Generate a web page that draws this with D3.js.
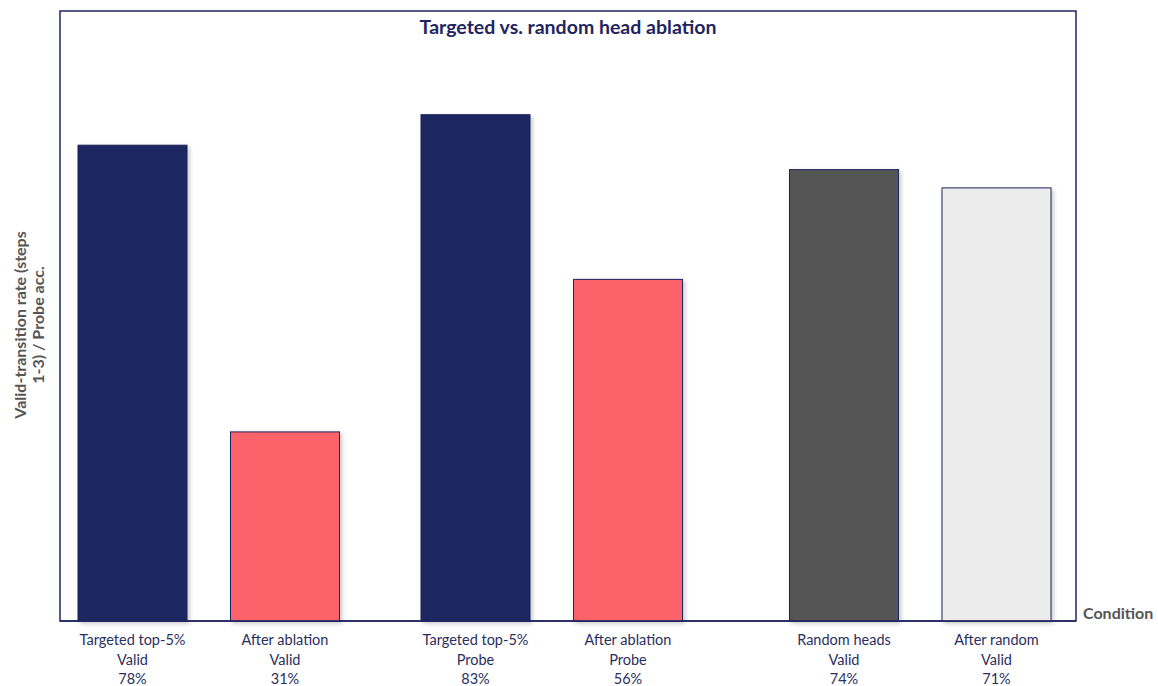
<!DOCTYPE html>
<html>
<head>
<meta charset="utf-8">
<script src="https://cdn.jsdelivr.net/npm/d3@7"></script>
<style>
  html, body { margin: 0; padding: 0; background: #fff; }
  svg { display: block; font-family: Lato, "Open Sans", "Liberation Sans", sans-serif; }
</style>
</head>
<body>
<svg id="chart" width="1158" height="686"></svg>
<script>
// Conditions, grouped in pairs (before / after)
const conditions = [
  "Targeted top-5%|Valid", "After ablation|Valid",
  "Targeted top-5%|Probe", "After ablation|Probe",
  "Random heads|Valid", "After random|Valid"
];
const conditionGroup = [0, 0, 1, 1, 2, 2];
const values = [0.78, 0.31, 0.83, 0.56, 0.74, 0.71];
const barColors = ["#1f2560", "#fb626b", "#1f2560", "#fb626b", "#555555", "#ececec"];

const title = "Targeted vs. random head ablation";
const yTitleLines = ["Valid-transition rate (steps", "1-3)  /  Probe acc."];
const xTitle = "Condition";

const svg = d3.select("#chart");
const frame = { left: 60, top: 11, right: 1076, bottom: 621 };
const navy = "#1f2560";

// layout: bar pitch and extra spacing inserted before each group
const barStep = 152.5;
const barWidth = 109;
const groupExtra = [0, 38, 101.5];

const defs = svg.append("defs");
const f = defs.append("filter").attr("id", "shadow")
  .attr("x", "-10%").attr("y", "-10%").attr("width", "130%").attr("height", "130%");
f.append("feDropShadow").attr("dx", 2).attr("dy", 2).attr("stdDeviation", 2)
  .attr("flood-color", "#000").attr("flood-opacity", 0.22);

const y = d3.scaleLinear().domain([0, 1]).range([frame.bottom, frame.top]);
const xi = d3.scaleLinear().domain([0, 1]).range([132.5, 132.5 + barStep]);

const bars = conditions.map((c, i) => ({
  label: c.split("|"),
  value: values[i],
  color: barColors[i],
  cx: xi(i) + groupExtra[conditionGroup[i]]
}));

// plot frame
svg.append("rect")
  .attr("x", frame.left).attr("y", frame.top)
  .attr("width", frame.right - frame.left).attr("height", frame.bottom - frame.top)
  .attr("fill", "#fff").attr("stroke", navy).attr("stroke-width", 1.5);

svg.append("g").selectAll("rect").data(bars).join("rect")
  .attr("x", d => d.cx - barWidth / 2)
  .attr("y", d => y(d.value))
  .attr("width", barWidth)
  .attr("height", d => y(0) - y(d.value))
  .attr("fill", d => d.color)
  .attr("stroke", navy).attr("stroke-width", 1)
  .attr("filter", "url(#shadow)");

// frame bottom drawn over bar bases
svg.append("line")
  .attr("x1", frame.left).attr("x2", frame.right)
  .attr("y1", frame.bottom).attr("y2", frame.bottom)
  .attr("stroke", navy).attr("stroke-width", 1.5);

// category labels with values
const lab = svg.append("g").selectAll("text").data(bars).join("text")
  .attr("text-anchor", "middle")
  .attr("fill", "#2b2f5e")
  .attr("font-size", 14.5);
lab.each(function(d) {
  const t = d3.select(this);
  const lines = [d.label[0], d.label[1], d3.format(".0%")(d.value)];
  lines.forEach((s, k) => {
    t.append("tspan").attr("x", d.cx).attr("y", 645 + k * 19.5).text(s);
  });
});

// title
svg.append("text")
  .attr("x", (frame.left + frame.right) / 2).attr("y", 34)
  .attr("text-anchor", "middle")
  .attr("font-size", 19.5).attr("font-weight", "bold")
  .attr("fill", navy).text(title);

// y axis title
const yt = svg.append("text")
  .attr("transform", `translate(26, 325) rotate(-90)`)
  .attr("text-anchor", "middle")
  .attr("font-size", 16).attr("font-weight", "bold")
  .attr("fill", "#555");
yTitleLines.forEach((s, k) => {
  yt.append("tspan").attr("x", 0).attr("y", k * 18).text(s);
});

// x axis title
svg.append("text")
  .attr("x", 1083).attr("y", 619)
  .attr("font-size", 16).attr("font-weight", "bold")
  .attr("fill", "#555").text(xTitle);
</script>
</body>
</html>
